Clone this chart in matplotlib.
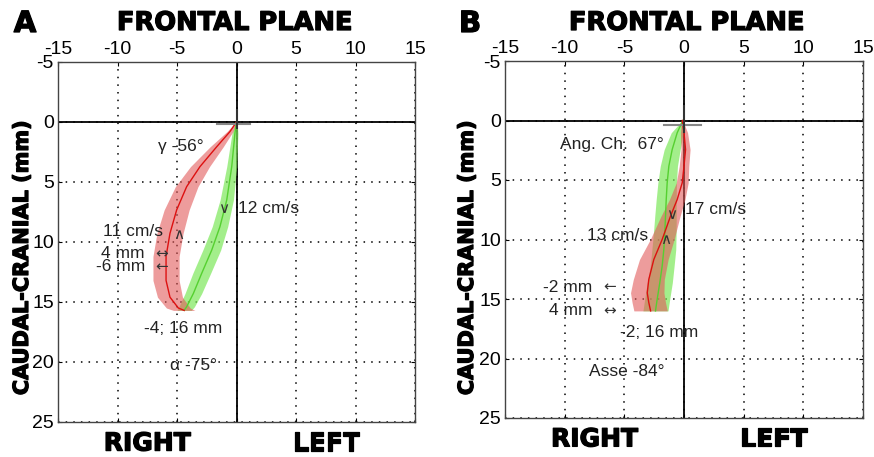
import numpy as np
import matplotlib
matplotlib.use("Agg")
import matplotlib.pyplot as plt
import matplotlib.patheffects as pe

# ---- panel A data (mm, x = right/left, y = caudal-cranial) ----
a_red_y = [0.0, 0.8, 2.06, 3.72, 5.39, 7.33, 9.28, 11.2, 13.2, 14.6, 15.5, 15.7]
a_red_x = [0.0, -0.55, -1.66, -3.07, -4.19, -5.03, -5.59, -5.92, -5.92, -5.59, -4.89, -4.4]
a_red_w = [0.05, 0.25, 0.55, 0.8, 0.95, 1.05, 1.1, 1.1, 1.1, 1.05, 1.0, 0.9]
a_green_y = [0.0, 0.94, 3.72, 6.5, 8.72, 10.67, 12.6, 14.3, 15.4, 15.7]
a_green_x = [0.0, -0.13, -0.4, -0.82, -1.39, -2.08, -2.92, -3.63, -4.19, -4.4]
a_green_w = [0.05, 0.25, 0.42, 0.56, 0.65, 0.75, 0.75, 0.7, 0.65, 0.6]

# ---- panel B data ----
b_red_y = [0.0, 1.03, 2.44, 3.84, 5.24, 6.64, 8.04, 10.0, 11.68, 13.36, 14.48, 15.3, 16.0]
b_red_x = [-0.15, 0.0, 0.13, 0.0, -0.15, -0.57, -1.13, -1.83, -2.53, -2.95, -3.08, -2.95, -2.8]
b_red_w = [0.05, 0.3, 0.38, 0.4, 0.5, 0.65, 0.8, 1.0, 1.2, 1.3, 1.4, 1.4, 1.4]
b_green_y = [0.0, 1.03, 2.44, 3.84, 5.24, 6.64, 8.04, 9.44, 10.84, 12.24, 13.64, 15.04, 16.0]
b_green_x = [-0.1, -0.57, -0.99, -1.27, -1.41, -1.49, -1.55, -1.61, -1.69, -1.83, -2.03, -2.25, -2.39]
b_green_w = [0.05, 0.5, 0.67, 0.72, 0.78, 0.84, 0.9, 0.95, 1.0, 1.0, 1.05, 1.05, 1.05]

# ---- annotations: (text, x, y, ha) ----
a_notes = [("\u03b3 -56\u00b0", -4.7, 2.06, "center"),
           ("12 cm/s", 0.15, 7.2, "left"),
           ("11 cm/s", -6.15, 9.14, "right"),
           ("4 mm", -7.7, 10.94, "right"),
           ("-6 mm", -7.7, 12.06, "right"),
           ("-4; 16 mm", -4.5, 17.2, "center"),
           ("\u03b1 -75\u00b0", -3.6, 20.25, "center")]
a_marks = [("\u2228", -1.1, 7.2), ("\u2227", -4.9, 9.4),
           ("\u2194", -6.3, 11.0), ("\u2190", -6.3, 12.1)]
b_notes = [("Ang. Ch.  67\u00b0", -1.7, 2.0, "right"),
           ("17 cm/s", 0.1, 7.5, "left"),
           ("13 cm/s", -3.0, 9.7, "right"),
           ("-2 mm", -7.7, 14.06, "right"),
           ("4 mm", -7.7, 16.0, "right"),
           ("-2; 16 mm", -2.1, 17.8, "center"),
           ("Asse -84\u00b0", -4.8, 21.07, "center")]
b_marks = [("\u2228", -1.0, 7.9), ("\u2227", -1.55, 10.0),
           ("\u2190", -6.2, 14.0), ("\u2194", -6.2, 16.0)]

# origin cross (gray horizontal bar, dark vertical bar)
a_cross_h = ([-1.65, 1.1], [0.2, 0.2])
a_cross_v = ([0, 0], [-1.0, 0.5])
b_cross_h = ([-1.7, 1.4], [0.4, 0.4])
b_cross_v = ([0, 0], [-1.2, 1.0])

ticks = [-15, -10, -5, 0, 5, 10, 15]
yticks = [-5, 0, 5, 10, 15, 20, 25]

plt.rcParams["font.family"] = ["Liberation Sans", "DejaVu Sans"]
plt.rcParams["axes.unicode_minus"] = False

fig = plt.figure(figsize=(8.74, 4.57), dpi=100)
axA = fig.add_axes([58 / 874, 35 / 457, 357 / 874, 360 / 457])
axB = fig.add_axes([505 / 874, 39 / 457, 358 / 874, 357 / 457])

bold = dict(family="DejaVu Sans", fontweight="bold", color="black",
            path_effects=[pe.withStroke(linewidth=0.9, foreground="black")])


def draw(ax, red, green, notes, marks, cross_h, cross_v):
    ax.set_xlim(-15, 15)
    ax.set_ylim(25, -5)
    ax.set_xticks(ticks)
    ax.set_yticks(yticks)
    ax.xaxis.tick_top()
    ax.tick_params(direction="in", length=3, top=True, bottom=True,
                   left=True, right=True, labelsize=14, pad=3,
                   labelbottom=False, labeltop=True)
    ax.grid(True, color="black", linestyle=(0, (1, 4)), linewidth=1.1)
    for s in ax.spines.values():
        s.set_color("#444444")
        s.set_linewidth(1.0)
    ax.axhline(0, color="black", lw=1.3, zorder=2)
    ax.axvline(0, color="black", lw=1.3, zorder=2)

    gy, gx, gw = [np.array(v) for v in green]
    ry, rx, rw = [np.array(v) for v in red]
    ax.fill_betweenx(gy, gx - gw, gx + gw, color="#7de85a", alpha=0.7,
                     lw=0, zorder=3)
    ax.fill_betweenx(ry, rx - rw, rx + rw, color="#e25a5a", alpha=0.6,
                     lw=0, zorder=4)
    ax.plot(gx, gy, color="#55d030", lw=1.0, zorder=5)
    ax.plot(rx, ry, color="#dd1010", lw=1.0, zorder=6)

    ax.plot(*cross_h, color="#888888", lw=1.5, zorder=7)
    ax.plot(*cross_v, color="#333333", lw=1.5, zorder=7)

    for t, x, y, ha in notes:
        ax.text(x, y, t, ha=ha, va="center", fontsize=12.5, color="#222222",
                zorder=8)
    for t, x, y in marks:
        ax.text(x, y, t, ha="center", va="center", fontsize=11,
                family="DejaVu Sans", color="#333333", zorder=8)

    ax.text(-7.5, 26.8, "RIGHT", ha="center", va="center", fontsize=18,
            clip_on=False, **bold)
    ax.text(7.5, 26.8, "LEFT", ha="center", va="center", fontsize=18,
            clip_on=False, **bold)


draw(axA, (a_red_y, a_red_x, a_red_w), (a_green_y, a_green_x, a_green_w),
     a_notes, a_marks, a_cross_h, a_cross_v)
draw(axB, (b_red_y, b_red_x, b_red_w), (b_green_y, b_green_x, b_green_w),
     b_notes, b_marks, b_cross_h, b_cross_v)

fig.text(25 / 874, 1 - 24 / 457, "A", ha="center", va="center",
         fontsize=21, **bold)
fig.text(470 / 874, 1 - 24 / 457, "B", ha="center", va="center",
         fontsize=21, **bold)
fig.text(235 / 874, 1 - 23 / 457, "FRONTAL PLANE", ha="center",
         va="center", fontsize=18.5, **bold)
fig.text(687 / 874, 1 - 23 / 457, "FRONTAL PLANE", ha="center",
         va="center", fontsize=18.5, **bold)
fig.text(22 / 874, 1 - 258 / 457, "CAUDAL-CRANIAL (mm)", rotation=90,
         ha="center", va="center", fontsize=15, **bold)
fig.text(467 / 874, 1 - 258 / 457, "CAUDAL-CRANIAL (mm)", rotation=90,
         ha="center", va="center", fontsize=15, **bold)

fig.savefig("out.png", dpi=100)
